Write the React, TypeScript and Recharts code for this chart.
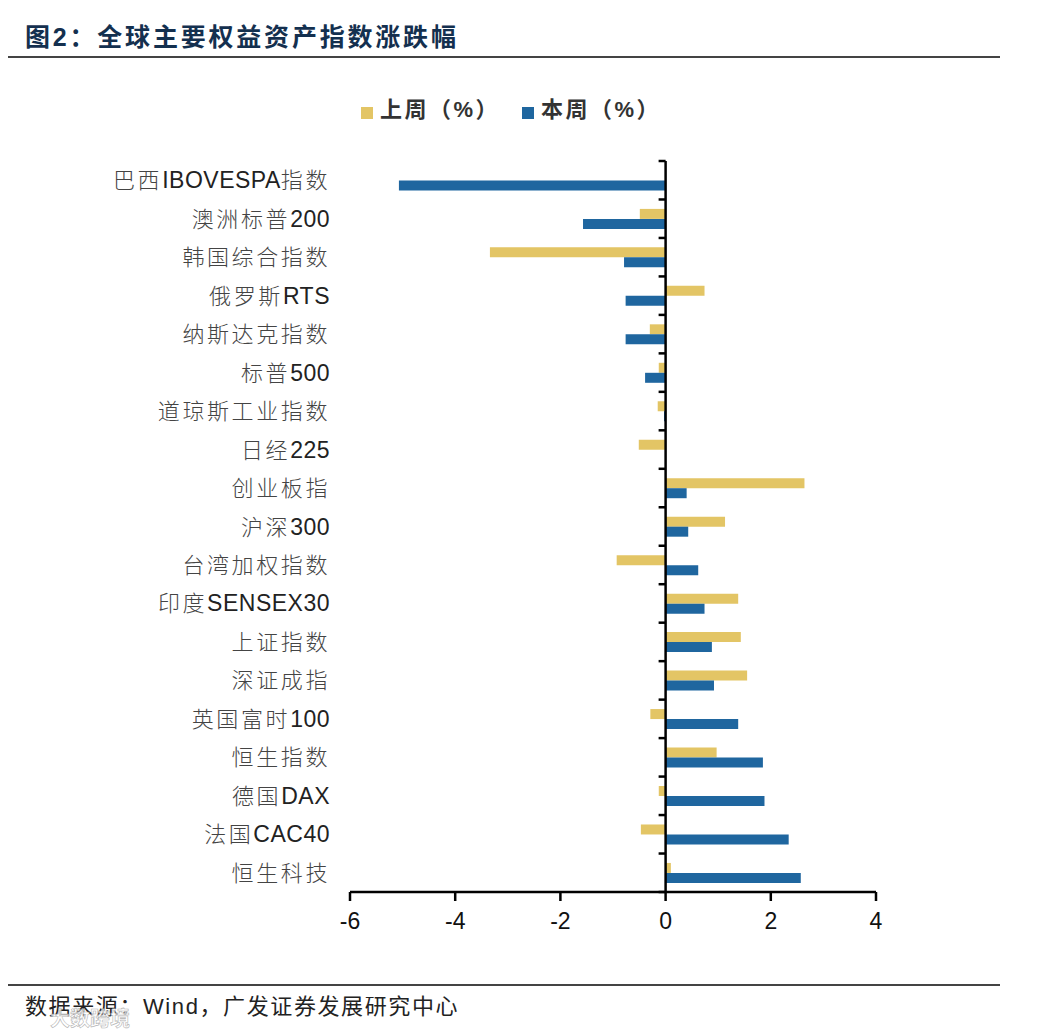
import { BarChart, Bar, XAxis, YAxis, Legend, ReferenceLine } from "recharts";

const FONT = '"Liberation Sans", "Noto Sans CJK SC", sans-serif';

const categories = [
  "巴西IBOVESPA指数", "澳洲标普200", "韩国综合指数", "俄罗斯RTS", "纳斯达克指数",
  "标普500", "道琼斯工业指数", "日经225", "创业板指", "沪深300", "台湾加权指数",
  "印度SENSEX30", "上证指数", "深证成指", "英国富时100", "恒生指数", "德国DAX",
  "法国CAC40", "恒生科技",
];
const lastWeek = [
  0, -0.49, -3.34, 0.74, -0.3, -0.13, -0.15, -0.51, 2.64, 1.13, -0.93, 1.38,
  1.43, 1.55, -0.29, 0.97, -0.13, -0.47, 0.1,
];
const thisWeek = [
  -5.07, -1.57, -0.79, -0.76, -0.76, -0.39, -0.03, 0, 0.4, 0.43, 0.62, 0.74,
  0.88, 0.92, 1.38, 1.85, 1.88, 2.34, 2.57,
];
const xTicks = [-6, -4, -2, 0, 2, 4];

const data = categories.map((name, i) => ({ name, lastWeek: lastWeek[i], thisWeek: thisWeek[i] }));

// chinese and latin parts have different spacing in the source
function CategoryTick({ x, y, payload }: any) {
  const parts = String(payload.value).match(/[A-Za-z0-9]+|[^A-Za-z0-9]+/g) || [];
  return (
    <text x={x} y={y} dy={8} textAnchor="end" fontFamily={FONT} fontSize={22} fill="#3a3a3a">
      {parts.map((p: string, i: number) => {
        const latin = /^[A-Za-z0-9]/.test(p);
        return (
          <tspan
            key={i}
            fontSize={latin ? 23 : 22}
            letterSpacing={latin ? 0.5 : 2.6}
            fontWeight={latin ? 400 : 300}
            fill={latin ? "#222" : "#444"}
          >
            {p}
          </tspan>
        );
      })}
    </text>
  );
}

// spine on the zero line, with ticks between the categories
function ZeroAxis({ x1, y1, y2 }: any) {
  const step = (y2 - y1) / categories.length;
  return (
    <g stroke="#000" strokeWidth={2.5}>
      <line x1={x1} x2={x1} y1={y1} y2={y2} />
      {Array.from({ length: categories.length + 1 }, (_, i) => (
        <line key={i} x1={x1 - 7} x2={x1} y1={y1 + step * i} y2={y1 + step * i} />
      ))}
    </g>
  );
}

const legendText = (value: string) => (
  <span style={{ color: "#333", fontSize: 22, fontWeight: 700, letterSpacing: 2.5, marginLeft: 3, marginRight: 12, fontFamily: FONT }}>
    {value}
  </span>
);

export default function App() {
  return (
    <div style={{ position: "absolute", left: 0, top: 0, width: 1039, height: 1036, background: "#fff" }}>
      <div
        style={{
          position: "absolute", left: 25, top: 17, fontFamily: FONT, fontSize: 25, fontWeight: 700,
          color: "#14304f", letterSpacing: 2.8, whiteSpace: "nowrap",
        }}
      >
        {"图2\uFF1A全球主要权益资产指数涨跌幅"}
      </div>
      <div style={{ position: "absolute", left: 8, top: 56, width: 992, height: 1.5, background: "#444" }} />

      <BarChart
        width={1039}
        height={1036}
        data={data}
        layout="vertical"
        barCategoryGap="24.5%"
        barGap={0}
        margin={{ top: 161, right: 163, bottom: 114, left: 0 }}
      >
        <XAxis
          type="number"
          domain={[-6, 4]}
          ticks={xTicks}
          interval={0}
          height={30}
          tickSize={9}
          tickMargin={12}
          axisLine={{ stroke: "#000", strokeWidth: 2.5 }}
          tickLine={{ stroke: "#000", strokeWidth: 2.5 }}
          tick={{ fill: "#111", fontSize: 23, fontFamily: FONT }}
        />
        <YAxis
          type="category"
          dataKey="name"
          width={350}
          interval={0}
          axisLine={false}
          tickLine={false}
          tickSize={0}
          tickMargin={20}
          tick={<CategoryTick />}
        />
        <Legend
          layout="horizontal"
          verticalAlign="middle"
          align="center"
          iconType="square"
          iconSize={12}
          formatter={legendText}
          wrapperStyle={{ top: 93, left: 332, width: 380, height: 36, lineHeight: "34px" }}
        />
        <Bar dataKey="lastWeek" name={"上周\uFF08%\uFF09"} fill="#E3C565" isAnimationActive={false} />
        <Bar dataKey="thisWeek" name={"本周\uFF08%\uFF09"} fill="#1F669F" isAnimationActive={false} />
        <ReferenceLine x={0} shape={<ZeroAxis />} />
      </BarChart>

      <div style={{ position: "absolute", left: 8, top: 984, width: 992, height: 1.5, background: "#444" }} />
      <div
        style={{
          position: "absolute", left: 25, top: 988, fontFamily: FONT, fontSize: 22, letterSpacing: 1.6, color: "#222", whiteSpace: "nowrap",
        }}
      >
        {"数据来源\uFF1AWind\uFF0C广发证券发展研究中心"}
      </div>
      <div
        style={{
          position: "absolute", left: 50, top: 1003, fontFamily: FONT, fontSize: 20, fontWeight: 700, color: "#fff",
          opacity: 0.75, WebkitTextStroke: "0.6px #999", whiteSpace: "nowrap",
        }}
      >
        大数跨境
      </div>
    </div>
  );
}
